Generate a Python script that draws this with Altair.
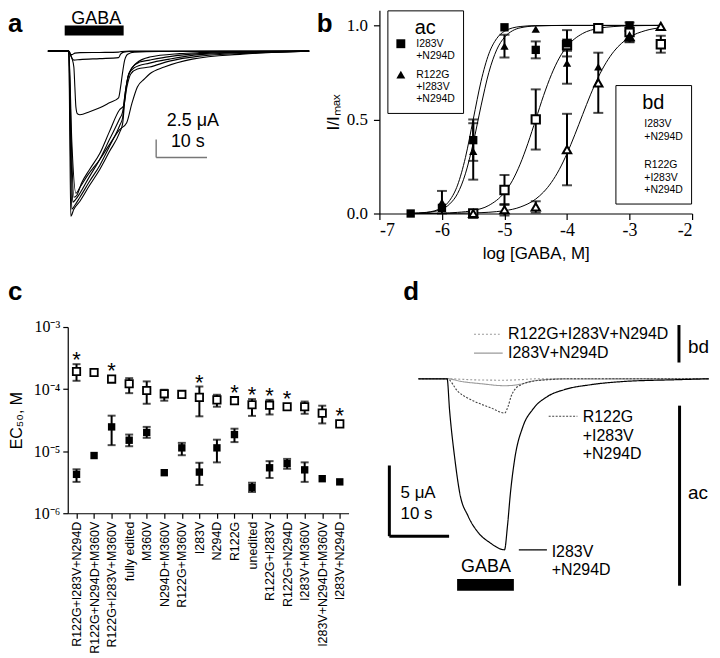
import altair as alt
import pandas as pd

FONT = "Liberation Sans"
SERIF = "Liberation Serif"
NB = "\u00a0"

# ======================= panel a : current traces (s, µA) =======================
a1_t = [-4.1, 0, 0.2, 0.6, 1.2, 2.2, 6.1, 9.8, 10.4, 12.0, 47.3]
a1_i = [0, 0, -0.42, -0.49, -0.28, -0.21, -0.18, -0.14, -0.04, 0, 0]
a2_t = [-4.1, 0, 0.4, 1.0, 2.2, 6.1, 9.8, 10.2, 10.8, 12.0, 47.3]
a2_i = [0, 0, -0.69, -1.25, -1.18, -1.04, -0.90, -0.42, -0.14, -0.04, 0]
a3_t = [-4.1, 0, 0.6, 1.0, 1.2, 1.4, 1.7, 2.2, 4.1, 6.1, 8.0, 9.8, 10.2, 10.6, 11.0, 11.6, 12.9, 17.8, 47.3]
a3_i = [0, 0, -0.97, -2.22, -5.0, -7.78, -8.75, -8.89, -8.47, -7.92, -7.22, -6.53, -5.0, -2.92, -1.25, -0.42, -0.14, -0.04, 0]
a4_t = [-4.1, 0, 0.2, 0.4, 1.0, 2.2, 4.1, 6.1, 8.0, 10.0, 10.6, 11.0, 11.4, 12.0, 13.3, 15.9, 21.8, 25.7, 35.5, 47.3]
a4_i = [0, 0, -11.25, -23.06, -22.08, -20.97, -18.75, -16.53, -14.03, -11.39, -10.14, -7.08, -4.58, -2.92, -1.67, -0.83, -0.35, -0.21, -0.07, 0]
a5_t = [-4.1, 0, 0.3, 0.6, 1.2, 2.2, 4.1, 6.1, 8.0, 10.0, 10.6, 11.0, 11.6, 12.4, 13.9, 15.9, 19.8, 25.7, 35.5, 47.3]
a5_i = [0, 0, -12.64, -22.08, -21.53, -20.42, -18.19, -15.97, -13.33, -10.42, -9.31, -6.39, -3.75, -2.36, -1.53, -1.25, -0.76, -0.35, -0.14, 0]
a6_t = [-4.1, 0, 0.4, 0.8, 1.4, 2.2, 4.1, 6.1, 8.0, 10.0, 10.6, 11.2, 11.8, 12.8, 15.9, 19.8, 25.7, 35.5, 47.3]
a6_i = [0, 0, -12.64, -21.11, -20.69, -19.86, -17.5, -15.14, -12.36, -9.44, -8.47, -5.42, -3.19, -2.36, -1.67, -1.11, -0.49, -0.21, 0]
a7_t = [-4.1, 0, 0.5, 1.0, 1.6, 2.5, 4.1, 6.1, 8.0, 10.0, 10.8, 11.4, 12.2, 13.5, 15.9, 19.8, 25.7, 35.5, 47.3]
a7_i = [0, 0, -12.64, -20.42, -20.14, -18.47, -16.53, -14.31, -11.25, -8.19, -7.64, -5.14, -3.19, -2.5, -2.22, -1.39, -0.69, -0.28, 0]
a8_t = [-4.1, 0, 0.6, 1.4, 2.2, 3.7, 6.1, 8.0, 10.0, 11.4, 12.4, 13.5, 14.9, 15.9, 18.8, 24.3, 34.1, 47.3]
a8_i = [0, 0, -12.64, -19.86, -19.03, -17.36, -15.14, -13.06, -10.97, -10.0, -7.36, -5.0, -3.89, -3.19, -2.22, -1.11, -0.42, 0]

a_gaba_on, a_gaba_off = -0.8, 10.8          # s
a_scale_t, a_scale_i = 17.2, -12.36          # scale bar origin
a_scale_di, a_scale_dt = 2.5, 10.0           # 2.5 µA, 10 s

# ======================= panel b : concentration–response =======================
b_ac1_x = [-6.5, -6.0, -5.5, -5.0, -4.5, -4.0, -3.0]
b_ac1_y = [0.0, 0.03, 0.39, 0.99, 0.87, 0.905, 1.0]
b_ac1_e = [0, 0, 0.11, 0, 0.045, 0.07, 0]
b_ac2_x = [-6.0, -5.5, -5.0, -4.5, -4.0, -3.5, -3.0]
b_ac2_y = [0.06, 0.33, 0.89, 0.98, 0.80, 0.78, 0.94]
b_ac2_e = [0.06, 0.15, 0.06, 0, 0.11, 0, 0.03]
b_bd1_x = [-5.5, -5.0, -4.5, -4.0, -3.5, -3.0, -2.5]
b_bd1_y = [0.0, 0.125, 0.50, 0.895, 0.985, 0.965, 0.90]
b_bd1_e = [0, 0.08, 0.16, 0.03, 0, 0.05, 0.045]
b_bd2_x = [-5.5, -5.0, -4.5, -4.0, -3.5, -3.0, -2.5]
b_bd2_y = [0.0, 0.02, 0.035, 0.34, 0.695, 0.94, 0.995]
b_bd2_e = [0, 0.03, 0.03, 0.19, 0.16, 0, 0]

cv_ac1_x = [-6.5, -6.25, -6.0, -5.875, -5.75, -5.625, -5.5, -5.375, -5.25, -5.125, -5.0, -4.75, -4.5, -4.0, -2.5]
cv_ac1_y = [0.001, 0.006, 0.031, 0.070, 0.151, 0.297, 0.5, 0.703, 0.849, 0.930, 0.969, 0.994, 0.999, 1.0, 1.0]
cv_ac2_x = [-6.5, -6.25, -6.0, -5.875, -5.75, -5.625, -5.5, -5.375, -5.25, -5.125, -5.0, -4.875, -4.75, -4.5, -4.0, -2.5]
cv_ac2_y = [0.001, 0.005, 0.023, 0.051, 0.106, 0.211, 0.374, 0.572, 0.750, 0.870, 0.937, 0.971, 0.987, 0.997, 1.0, 1.0]
cv_bd1_x = [-6.5, -6.0, -5.75, -5.5, -5.25, -5.0, -4.875, -4.75, -4.625, -4.5, -4.375, -4.25, -4.125, -4.0, -3.75, -3.5, -3.25, -3.0, -2.5]
cv_bd1_y = [0.0, 0.002, 0.006, 0.016, 0.043, 0.112, 0.174, 0.262, 0.373, 0.5, 0.627, 0.738, 0.826, 0.888, 0.957, 0.984, 0.994, 0.998, 1.0]
cv_bd2_x = [-6.5, -6.0, -5.5, -5.0, -4.75, -4.5, -4.375, -4.25, -4.125, -4.0, -3.875, -3.75, -3.625, -3.5, -3.375, -3.25, -3.0, -2.75, -2.5]
cv_bd2_y = [0.0, 0.0005, 0.003, 0.015, 0.034, 0.077, 0.114, 0.165, 0.233, 0.319, 0.419, 0.526, 0.631, 0.725, 0.802, 0.862, 0.937, 0.972, 0.988]

b_names = [NB * 3 + "I283V|+N294D", NB * 4 + "R122G|+I283V|+N294D"]

# ======================= panel c : EC50 =======================
c_cats = ["R122G+I283V+N294D", "R122G+N294D+M360V", "R122G+I283V+M360V", "fully edited",
          "M360V", "N294D+M360V", "R122G+M360V", "I283V", "N294D", "R122G", "unedited",
          "R122G+I283V", "R122G+N294D", "I283V+M360V", "I283V+N294D+M360V", "I283V+N294D"]
c_bd_v = [1.92e-4, 1.85e-4, 1.45e-4, 1.22e-4, 9.5e-5, 8.4e-5, 8.2e-5, 7.35e-5, 6.7e-5, 6.5e-5,
          5.6e-5, 5.5e-5, 5.2e-5, 5.2e-5, 4.1e-5, 2.75e-5]
c_bd_lo = [1.36e-4, None, None, 8.6e-5, 5.8e-5, 6.5e-5, None, 3.64e-5, 5.2e-5, None,
           3.7e-5, 3.9e-5, None, 4.0e-5, 2.8e-5, None]
c_bd_hi = [2.52e-4, None, None, 1.5e-4, 1.33e-4, 9.76e-5, None, 1.1e-4, 8.1e-5, None,
           6.9e-5, 6.7e-5, None, 6.3e-5, 5.4e-5, None]
c_ac_v = [4.23e-6, 8.5e-6, 2.46e-5, 1.5e-5, 2.0e-5, 4.5e-6, 1.13e-5, 4.6e-6, 1.13e-5, 1.85e-5,
          2.6e-6, 5.4e-6, 6.3e-6, 5.0e-6, 3.6e-6, 3.2e-6]
c_ac_lo = [3.2e-6, None, 1.25e-5, 1.2e-5, 1.64e-5, None, 8.6e-6, 2.85e-6, 6.6e-6, 1.4e-5,
           2.2e-6, 3.7e-6, 5.2e-6, 3.2e-6, None, None]
c_ac_hi = [5.1e-6, None, 3.73e-5, 1.85e-5, 2.46e-5, None, 1.36e-5, 6.5e-6, 1.53e-5, 2.3e-5,
           3.1e-6, 6.9e-6, 7.5e-6, 6.6e-6, None, None]
c_star = [True, False, True, False, False, False, False, True, False, True,
          True, True, True, False, False, True]

# ======================= panel d : example traces (s, µA) =======================
d_ac1_t = [-4.8, 0, 0.4, 1.3, 2.1, 3.5, 5.2, 7.1, 9.6, 10.1, 10.6, 11.3, 12.7, 14.3, 16.8, 19.6, 24.0, 29.6, 38.0, 43.8]
d_ac1_i = [0, 0, -2.18, -5.70, -8.05, -9.70, -10.87, -11.57, -12.09, -10.40, -8.05, -5.70, -3.36, -2.18, -1.25, -0.77, -0.42, -0.19, -0.07, 0]
d_ac2_t = [-4.8, 0, 1.8, 4.6, 7.4, 9.6, 10.2, 10.7, 11.3, 12.4, 14.1, 16.8, 20.0, 43.8]
d_ac2_i = [0, 0, -0.89, -1.60, -2.07, -2.42, -1.95, -1.25, -0.77, -0.42, -0.19, -0.07, 0, 0]
d_bd1_t = [-4.8, 0, 2.4, 5.7, 9.6, 11.8, 14.6, 18.5, 43.8]
d_bd1_i = [0, 0, -0.19, -0.35, -0.49, -0.42, -0.14, -0.02, 0]
d_bd2_t = [-4.8, 0, 5.0, 9.6, 12.0, 15.0, 43.8]
d_bd2_i = [0, 0, -0.08, -0.10, -0.07, 0, 0]

d_gaba_on, d_gaba_off = 1.67, 11.17
d_scale_t, d_scale_i = -9.67, -6.13
d_scale_di, d_scale_dt = 5.0, 10.0

ONE = pd.DataFrame({"k": [0]})


def letter(ch, x, y):
    return alt.Chart(ONE).mark_text(text=ch, font=FONT, fontSize=26, fontWeight="bold",
                                    align="left", baseline="alphabetic", color="black").encode(
        x=alt.value(x), y=alt.value(y))


# ----------------------------- panel a -----------------------------
AXS = alt.Scale(domain=[-0.2, 48], nice=False, zero=False)
AYS = alt.Scale(domain=[-24.5, 5.7], nice=False, zero=False)


def ax(f):
    return alt.X(f + ":Q", scale=AXS, axis=None)


def ay(f):
    return alt.Y(f + ":Q", scale=AYS, axis=None)


a_df = pd.concat([pd.DataFrame({"t": t, "i": i, "trace": n}) for n, t, i in [
    ("1", a1_t, a1_i), ("2", a2_t, a2_i), ("3", a3_t, a3_i), ("4", a4_t, a4_i),
    ("5", a5_t, a5_i), ("6", a6_t, a6_i), ("7", a7_t, a7_i), ("8", a8_t, a8_i)]])

a_lines = alt.Chart(a_df).mark_line(color="black", strokeWidth=1.1, interpolate="monotone").encode(
    x=ax("t"), y=ay("i"), detail="trace:N")
a_bar = alt.Chart(pd.DataFrame({"t0": [a_gaba_on], "t1": [a_gaba_off], "i0": [2.2], "i1": [3.6]})).mark_rect(
    color="black").encode(x=ax("t0"), x2="t1", y=ay("i0"), y2="i1")
a_gaba = alt.Chart(pd.DataFrame({"t": [5.4], "i": [3.75]})).mark_text(
    text="GABA", fontSize=18, font=FONT, align="center", baseline="alphabetic", color="black").encode(
    x=ax("t"), y=ay("i"))
a_sv = alt.Chart(pd.DataFrame({"t": [a_scale_t], "i0": [a_scale_i], "i1": [a_scale_i - a_scale_di]})).mark_rule(
    color="#777", strokeWidth=1.4).encode(x=ax("t"), y=ay("i0"), y2="i1")
a_sh = alt.Chart(pd.DataFrame({"t0": [a_scale_t], "t1": [a_scale_t + a_scale_dt], "i": [a_scale_i - a_scale_di]})).mark_rule(
    color="#777", strokeWidth=1.4).encode(x=ax("t0"), x2="t1", y=ay("i"))
a_txt = alt.Chart(pd.DataFrame({"t": [19.3, 20.1], "i": [-9.72, -12.64], "s": ["2.5 μA", "10 s"]})).mark_text(
    fontSize=18, font=FONT, align="left", baseline="middle", color="black").encode(
    x=ax("t"), y=ay("i"), text="s:N")

panel_a = alt.layer(a_lines, a_bar, a_gaba, a_sv, a_sh, a_txt, letter("a", -60, 22)).properties(
    width=246, height=217)

# ----------------------------- panel b -----------------------------
BXS = alt.Scale(domain=[-7, -2], nice=False, zero=False)
BYS = alt.Scale(domain=[0, 1.08], nice=False, zero=False)
BXA = alt.Axis(values=[-7, -6, -5, -4, -3, -2], labelExpr="'' + datum.value", labelFont=SERIF,
               labelFontSize=18, titleFont=FONT, titleFontSize=17, titleFontWeight="normal",
               tickSize=6, labelPadding=2, titlePadding=6, domainWidth=1.2, tickWidth=1.2)
BYA = alt.Axis(values=[0, 0.5, 1.0], format=".1f", labelFont=SERIF, labelFontSize=17,
               titleFont=FONT, titleFontSize=17, titleFontWeight="normal",
               tickSize=6, labelPadding=6, titlePadding=4, domainWidth=1.2, tickWidth=1.2)


def bx(f):
    return alt.X(f + ":Q", scale=BXS, axis=BXA, title="log [GABA, M]")


def by(f):
    return alt.Y(f + ":Q", scale=BYS, axis=BYA, title="I/Iₘₐₓ")


def b_legend(title, x, y, filled, title_pad, row_pad):
    return alt.Legend(
        title=title, orient="none", legendX=x, legendY=y, direction="vertical",
        strokeColor="black", fillColor="white", padding=8,
        titleFont=FONT, titleFontSize=20, titleFontWeight="normal", titleAnchor="middle",
        titlePadding=title_pad, titleColor="black",
        labelFont=FONT, labelFontSize=10.5, labelColor="black", labelLimit=0,
        labelExpr="split(datum.label, '|')", labelOffset=10,
        symbolSize=80, symbolStrokeWidth=2,
        symbolFillColor="black" if filled else "white", symbolStrokeColor="black",
        rowPadding=row_pad)


b_curve_df = pd.concat([pd.DataFrame({"x": x, "y": y, "curve": n}) for n, x, y in [
    ("ac1", cv_ac1_x, cv_ac1_y), ("ac2", cv_ac2_x, cv_ac2_y),
    ("bd1", cv_bd1_x, cv_bd1_y), ("bd2", cv_bd2_x, cv_bd2_y)]])
b_pts = {}
for key, xs, ys, es, nm in [("ac", b_ac1_x, b_ac1_y, b_ac1_e, b_names[0]), ("ac", b_ac2_x, b_ac2_y, b_ac2_e, b_names[1]),
                            ("bd", b_bd1_x, b_bd1_y, b_bd1_e, b_names[0]), ("bd", b_bd2_x, b_bd2_y, b_bd2_e, b_names[1])]:
    b_pts.setdefault(key, []).append(pd.DataFrame({"x": xs, "y": ys, "e": es, "series": nm}))
b_ac_df = pd.concat(b_pts["ac"])
b_bd_df = pd.concat(b_pts["bd"])
b_err_df = pd.concat([b_ac_df, b_bd_df])
b_err_df = b_err_df[b_err_df["e"] > 0].copy()
b_err_df["lo"] = b_err_df["y"] - b_err_df["e"]
b_err_df["hi"] = b_err_df["y"] + b_err_df["e"]

b_curves = alt.Chart(b_curve_df).mark_line(color="black", strokeWidth=1, interpolate="monotone").encode(
    x=bx("x"), y=by("y"), detail="curve:N")
b_err = alt.Chart(b_err_df).mark_rule(color="black", strokeWidth=2).encode(x=bx("x"), y=by("lo"), y2="hi")
b_cap_lo = alt.Chart(b_err_df).mark_tick(color="black", orient="horizontal", size=10, thickness=2).encode(
    x=bx("x"), y=by("lo"))
b_cap_hi = alt.Chart(b_err_df).mark_tick(color="black", orient="horizontal", size=10, thickness=2).encode(
    x=bx("x"), y=by("hi"))
b_bd = alt.Chart(b_bd_df).mark_point(color="black", fill="white", fillOpacity=1, strokeWidth=2,
                                     size=70, opacity=1).encode(
    x=bx("x"), y=by("y"),
    shape=alt.Shape("series:N", scale=alt.Scale(domain=b_names, range=["square", "triangle-up"]),
                    legend=b_legend("bd", 237, 75, False, 6, 14)))
b_ac = alt.Chart(b_ac_df).mark_point(filled=True, color="black", size=70, opacity=1).encode(
    x=bx("x"), y=by("y"),
    shape=alt.Shape("series:N", scale=alt.Scale(domain=b_names, range=["square", "triangle-up"]),
                    legend=b_legend("ac", 8, 0, True, 0, 4)))

panel_b = alt.layer(b_curves, b_err, b_cap_lo, b_cap_hi, b_bd, b_ac, letter("b", -63, 22)).resolve_scale(
    shape="independent").properties(width=314, height=204)

# ----------------------------- panel c -----------------------------
CXA = alt.Axis(labelAngle=-90, labelFont=FONT, labelFontSize=12.5, tickSize=5, labelPadding=3,
               domainWidth=1.2, tickWidth=1.2)
CYA = alt.Axis(values=[1e-6, 1e-5, 1e-4, 1e-3],
               labelExpr="datum.value > 0.0005 ? '10⁻³' : datum.value > 0.00005 ? '10⁻⁴' : datum.value > 0.000005 ? '10⁻⁵' : '10⁻⁶'",
               labelFont=SERIF, labelFontSize=16, titleFont=FONT, titleFontSize=16,
               titleFontWeight="normal", tickSize=5, labelPadding=3, titlePadding=9,
               domainWidth=1.2, tickWidth=1.2)
CXS = alt.Scale(type="point", padding=0.5)
CYS = alt.Scale(type="log", domain=[1e-6, 1e-3], nice=False)


def cx():
    return alt.X("cat:N", sort=c_cats, scale=CXS, axis=CXA, title=None)


def cy(f):
    return alt.Y(f + ":Q", scale=CYS, axis=CYA, title="EC₅₀, M")


c_df = pd.DataFrame({"cat": c_cats, "bd": c_bd_v, "bd_lo": c_bd_lo, "bd_hi": c_bd_hi,
                     "ac": c_ac_v, "ac_lo": c_ac_lo, "ac_hi": c_ac_hi, "star": c_star})
c_bd_err = c_df.dropna(subset=["bd_lo"])
c_ac_err = c_df.dropna(subset=["ac_lo"])
c_star_err = c_df[c_df["star"] & c_df["bd_hi"].notna()]
c_star_pt = c_df[c_df["star"] & c_df["bd_hi"].isna()]

c_layers = []
for err, lo, hi in [(c_ac_err, "ac_lo", "ac_hi"), (c_bd_err, "bd_lo", "bd_hi")]:
    c_layers.append(alt.Chart(err).mark_rule(color="black", strokeWidth=2).encode(x=cx(), y=cy(lo), y2=hi))
    c_layers.append(alt.Chart(err).mark_tick(color="black", size=8, thickness=2).encode(x=cx(), y=cy(lo)))
    c_layers.append(alt.Chart(err).mark_tick(color="black", size=8, thickness=2).encode(x=cx(), y=cy(hi)))
c_layers.append(alt.Chart(c_df).mark_square(color="black", size=55, opacity=1).encode(x=cx(), y=cy("ac")))
c_layers.append(alt.Chart(c_df).mark_point(shape="square", color="black", fill="white", fillOpacity=1,
                                          strokeWidth=1.8, size=55, opacity=1).encode(x=cx(), y=cy("bd")))
c_layers.append(alt.Chart(c_star_err).mark_text(text="*", fontSize=22, font=FONT, baseline="middle",
                                                dy=-4, color="black").encode(x=cx(), y=cy("bd_hi")))
c_layers.append(alt.Chart(c_star_pt).mark_text(text="*", fontSize=22, font=FONT, baseline="middle",
                                               dy=-8, color="black").encode(x=cx(), y=cy("bd")))
c_layers.append(letter("c", -60, -27))
panel_c = alt.layer(*c_layers).properties(width=282, height=187)

# ----------------------------- panel d -----------------------------
DXS = alt.Scale(domain=[-10, 43.83], nice=False, zero=False)
DYS = alt.Scale(domain=[-15.56, 3.66], nice=False, zero=False)


def dx(f):
    return alt.X(f + ":Q", scale=DXS, axis=None)


def dy_(f):
    return alt.Y(f + ":Q", scale=DYS, axis=None)


STY = {"bd2": ("#9a9a9a", [2, 2], 1.1), "bd1": ("#9a9a9a", [1, 0], 1.1),
       "ac2": ("#444444", [2, 1.5], 1.1), "ac1": ("black", [1, 0], 1.2)}

d_layers = []
for key, t, i in [("bd2", d_bd2_t, d_bd2_i), ("bd1", d_bd1_t, d_bd1_i),
                  ("ac2", d_ac2_t, d_ac2_i), ("ac1", d_ac1_t, d_ac1_i)]:
    col, dash, w = STY[key]
    d_layers.append(alt.Chart(pd.DataFrame({"t": t, "i": i})).mark_line(
        color=col, strokeDash=dash, strokeWidth=w, interpolate="monotone").encode(x=dx("t"), y=dy_("i")))

# label sample lines
for key, t0, t1, i in [("bd2", 4.5, 8.8, 3.15), ("bd1", 4.5, 9.3, 1.81),
                       ("ac2", 17.0, 21.8, -2.65), ("ac1", 12.0, 16.7, -12.09)]:
    col, dash, w = STY[key]
    d_layers.append(alt.Chart(pd.DataFrame({"t0": [t0], "t1": [t1], "i": [i]})).mark_rule(
        color=col, strokeDash=dash, strokeWidth=1.2).encode(x=dx("t0"), x2="t1", y=dy_("i")))

d_layers.append(alt.Chart(pd.DataFrame({"t": [10.2, 10.2], "i": [3.15, 1.81],
                                        "s": ["R122G+I283V+N294D", "I283V+N294D"]})).mark_text(
    fontSize=16, font=FONT, align="left", baseline="middle", color="black").encode(
    x=dx("t"), y=dy_("i"), text="s:N"))
d_layers.append(alt.Chart(pd.DataFrame({"t": [22.7, 17.5], "i": [-2.65, -12.15],
                                        "s": ["R122G\n+I283V\n+N294D", "I283V\n+N294D"]})).mark_text(
    fontSize=16, font=FONT, align="left", baseline="top", dy=-7, lineBreak="\n", lineHeight=18.5,
    color="black").encode(x=dx("t"), y=dy_("i"), text="s:N"))
d_layers.append(alt.Chart(pd.DataFrame({"t": [40.3, 40.3], "i": [2.27, -8.05], "s": ["bd", "ac"]})).mark_text(
    fontSize=19, font=FONT, align="left", baseline="middle", color="black").encode(
    x=dx("t"), y=dy_("i"), text="s:N"))
d_layers.append(alt.Chart(pd.DataFrame({"t": [38.8, 38.9], "i0": [3.80, -1.90], "i1": [1.15, -14.63]})).mark_rule(
    color="black", strokeWidth=3).encode(x=dx("t"), y=dy_("i0"), y2="i1"))
# scale bar
d_layers.append(alt.Chart(pd.DataFrame({"t": [d_scale_t], "i0": [d_scale_i], "i1": [d_scale_i - d_scale_di]})).mark_rule(
    color="black", strokeWidth=3).encode(x=dx("t"), y=dy_("i0"), y2="i1"))
d_layers.append(alt.Chart(pd.DataFrame({"t0": [d_scale_t], "t1": [d_scale_t + d_scale_dt],
                                        "i": [d_scale_i - d_scale_di]})).mark_rule(
    color="black", strokeWidth=3).encode(x=dx("t0"), x2="t1", y=dy_("i")))
d_layers.append(alt.Chart(pd.DataFrame({"t": [-7.8, -7.8], "i": [-8.05, -9.53], "s": ["5 μA", "10 s"]})).mark_text(
    fontSize=17, font=FONT, align="left", baseline="middle", color="black").encode(
    x=dx("t"), y=dy_("i"), text="s:N"))
d_layers.append(alt.Chart(pd.DataFrame({"t": [6.5], "i": [-13.33]})).mark_text(
    text="GABA", fontSize=18, font=FONT, align="center", baseline="middle", color="black").encode(
    x=dx("t"), y=dy_("i")))
d_layers.append(alt.Chart(pd.DataFrame({"t0": [d_gaba_on], "t1": [d_gaba_off], "i0": [-14.15], "i1": [-14.98]})).mark_rect(
    color="black").encode(x=dx("t0"), x2="t1", y=dy_("i0"), y2="i1"))
d_layers.append(letter("d", 16, -27))
panel_d = alt.layer(*d_layers).properties(width=323, height=273)

row1 = alt.hconcat(panel_a, panel_b, spacing=4)
row2 = alt.hconcat(panel_c, panel_d, spacing=39)
chart = alt.vconcat(row1, row2, spacing=18).properties(padding=0).configure(font=FONT).configure_view(
    stroke=None).configure_axis(grid=False, domainColor="black", tickColor="black",
                                labelColor="black", titleColor="black")

chart.save("out.html", embed_options={"renderer": "svg", "actions": False})
